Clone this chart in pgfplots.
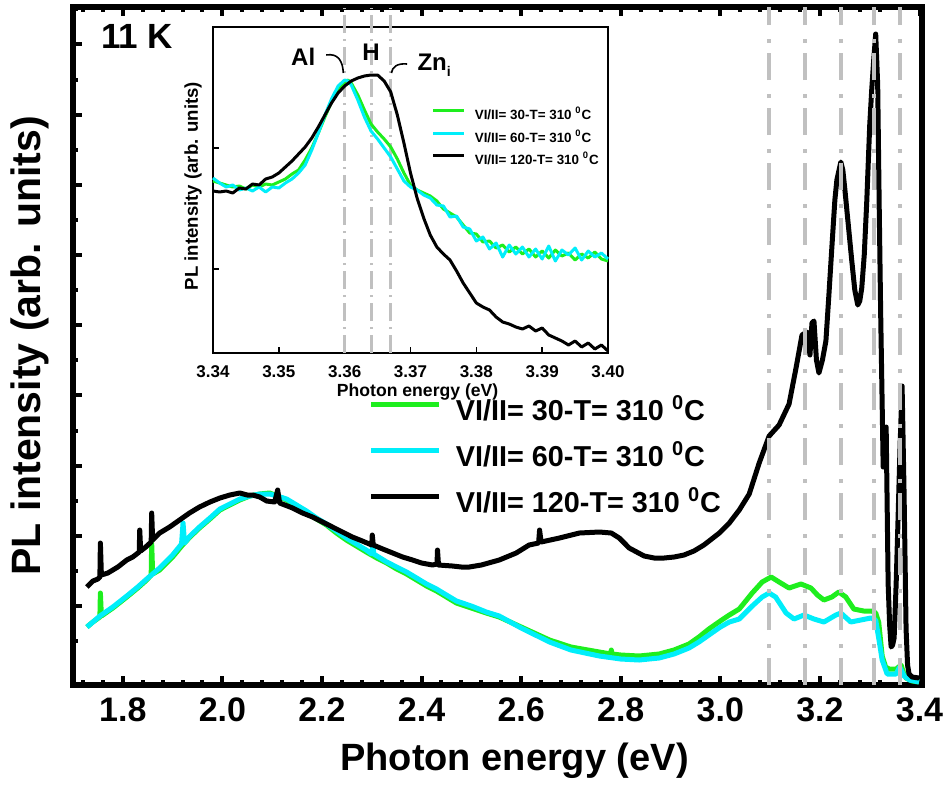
\documentclass[border=0pt]{standalone}
\usepackage{fontspec}
\setmainfont{Liberation Sans}
\usepackage{pgfplots}
\pgfplotsset{compat=1.18}
\definecolor{cgreen}{RGB}{30,238,30}
\definecolor{ccyan}{RGB}{0,238,250}
\definecolor{dgray}{RGB}{192,192,192}
\newcommand{\fs}[1]{\bfseries\fontsize{#1}{#1}\selectfont}
\begin{document}
\begin{tikzpicture}
\begin{axis}[
  at={(0,0)}, anchor=south west,
  width=424.5pt, height=339pt, scale only axis,
  xmin=1.7, xmax=3.405, ymin=0, ymax=678,
  axis line style={line width=3pt},
  xtick={1.8,2.0,2.2,2.4,2.6,2.8,3.0,3.2,3.4},
  xticklabels={1.8,2.0,2.2,2.4,2.6,2.8,3.0,3.2,3.4},
  minor xtick={1.72,1.76,1.84,1.88,1.92,1.96,2.04,2.08,2.12,2.16,2.24,2.28,2.32,2.36,2.44,2.48,2.52,2.56,2.64,2.68,2.72,2.76,2.84,2.88,2.92,2.96,3.04,3.08,3.12,3.16,3.24,3.28,3.32,3.36},
  ytick={79,149.2,219.4,289.6,359.8,430,500.2,570.4,640.6},
  yticklabels={},
  minor ytick={44,114.1,184.3,254.5,324.7,394.9,465.1,535.3,605.5,675.7},
  xtick pos=both, ytick pos=left,
  tick align=inside,
  major tick length=4.5pt, minor tick length=2.5pt,
  every tick/.style={black, line width=2pt},
  /pgf/number format/assume math mode=true,
  xticklabel style={font=\fs{17}, yshift=-2.8pt},
  xlabel={Photon energy (eV)},
  xlabel style={font=\fs{19}, at={(axis description cs:0.52,-0.111)}, anchor=center},
  ylabel={PL intensity (arb. units)},
  ylabel style={font=\fs{20.5}, at={(axis description cs:-0.0506,0.5)}, anchor=center},
  legend style={at={(axis description cs:0.3485,0.429)}, anchor=north west, draw=none, fill=none,
    font=\fs{14.4}, inner sep=0pt, outer sep=0pt, row sep=5pt, column sep=5pt,
    nodes={inner sep=2pt, text height=11pt, text depth=3pt}},
  legend cell align=left,
  legend image code/.code={\draw[#1, line width=2.5pt] (0pt,4pt) -- (34pt,4pt);},
  every axis plot/.append style={line join=round},
]
\addplot[cgreen, line width=2.5pt] coordinates {
(1.728,58) (1.740,63) (1.754,68) (1.755,92) (1.757,69) (1.780,77) (1.808,88) (1.830,97) (1.848,105) (1.857,110) (1.858,142) (1.860,111) (1.874,115) (1.900,128) (1.920,140) (1.935,148) (1.954,157) (1.975,166) (1.995,175) (2.015,180) (2.035,185) (2.055,189) (2.075,191) (2.095,192) (2.110,189) (2.129,185) (2.149,178) (2.169,172) (2.189,166) (2.209,160) (2.229,152) (2.249,145) (2.269,139) (2.289,133) (2.310,127) (2.330,122) (2.350,116) (2.370,111) (2.390,105) (2.410,99) (2.430,94) (2.450,88) (2.470,82) (2.500,77) (2.530,72) (2.556,68) (2.600,58) (2.657,45) (2.700,38) (2.757,33) (2.780,31) (2.781,35) (2.783,31) (2.800,30) (2.837,29) (2.877,31) (2.907,35) (2.937,41) (2.957,48) (2.977,56) (3.000,64) (3.018,70) (3.038,76) (3.064,92) (3.084,103) (3.102,108) (3.118,103) (3.138,97) (3.150,99) (3.162,101) (3.182,97) (3.195,90) (3.208,85) (3.224,88) (3.238,93) (3.252,88) (3.268,76) (3.288,74) (3.304,74) (3.312,72) (3.318,63) (3.325,29) (3.332,18) (3.339,16) (3.353,16) (3.363,20) (3.368,12) (3.373,7) (3.385,4) (3.399,3)};
\addlegendentry{VI/II= 30-T= 310 \textsuperscript{0}C}
\addplot[ccyan, line width=2.5pt] coordinates {
(1.728,58) (1.740,63) (1.754,69) (1.780,78) (1.808,89) (1.830,98) (1.848,106) (1.874,117) (1.900,130) (1.918,141) (1.921,162) (1.924,142) (1.935,149) (1.954,158) (1.975,167) (1.995,176) (2.015,181) (2.035,186) (2.055,189) (2.075,191) (2.095,191) (2.110,189) (2.129,186) (2.149,180) (2.169,174) (2.189,167) (2.209,161) (2.229,154) (2.249,147) (2.269,141) (2.289,135) (2.300,131) (2.302,141) (2.304,131) (2.330,123) (2.350,118) (2.370,113) (2.390,107) (2.410,101) (2.430,96) (2.450,90) (2.470,84) (2.500,79) (2.530,73) (2.556,69) (2.600,57) (2.657,43) (2.700,35) (2.757,29) (2.800,26) (2.837,25) (2.877,27) (2.907,31) (2.937,37) (2.957,43) (2.977,50) (3.000,58) (3.018,63) (3.038,66) (3.064,79) (3.084,88) (3.098,92) (3.111,88) (3.132,72) (3.148,66) (3.168,70) (3.188,66) (3.208,63) (3.232,70) (3.242,72) (3.262,63) (3.282,65) (3.302,67) (3.312,65) (3.318,47) (3.325,25) (3.335,11) (3.353,11) (3.360,18) (3.369,9) (3.380,5) (3.399,3)};
\addlegendentry{VI/II= 60-T= 310 \textsuperscript{0}C}
\addplot[black, line width=2.5pt] coordinates {
(1.728,98) (1.740,104) (1.750,106) (1.754,108) (1.755,142) (1.757,110) (1.770,112) (1.790,118) (1.808,125) (1.820,128) (1.833,133) (1.834,155) (1.836,134) (1.846,138) (1.857,143) (1.858,172) (1.860,145) (1.874,152) (1.894,158) (1.914,165) (1.934,172) (1.954,178) (1.975,183) (1.995,187) (2.015,190) (2.035,192) (2.050,190) (2.061,190) (2.075,188) (2.089,184) (2.105,183) (2.111,195) (2.115,182) (2.141,177) (2.161,172) (2.181,168) (2.201,163) (2.221,158) (2.241,153) (2.261,148) (2.281,144) (2.300,140) (2.301,150) (2.303,140) (2.322,136) (2.342,132) (2.362,128) (2.382,125) (2.400,122) (2.422,120) (2.431,121) (2.432,135) (2.434,120) (2.462,119) (2.480,118) (2.496,118) (2.520,120) (2.556,125) (2.590,132) (2.616,140) (2.635,142) (2.637,155) (2.640,143) (2.677,147) (2.717,152) (2.757,153) (2.781,152) (2.797,147) (2.817,137) (2.847,129) (2.867,127) (2.887,127) (2.907,128) (2.927,130) (2.947,134) (2.967,140) (2.998,152) (3.018,162) (3.038,175) (3.058,191) (3.078,222) (3.098,249) (3.118,260) (3.138,281) (3.152,317) (3.164,350) (3.174,353) (3.180,330) (3.184,362) (3.188,364) (3.193,325) (3.198,312) (3.205,325) (3.212,344) (3.218,390) (3.224,438) (3.230,485) (3.234,505) (3.242,523) (3.246,515) (3.250,496) (3.257,460) (3.264,424) (3.270,395) (3.276,380) (3.280,384) (3.284,397) (3.289,430) (3.294,483) (3.300,560) (3.304,595) (3.308,625) (3.312,651) (3.316,600) (3.319,480) (3.322,371) (3.325,280) (3.327,218) (3.330,230) (3.333,258) (3.335,180) (3.337,101) (3.340,60) (3.343,38) (3.346,40) (3.349,47) (3.353,100) (3.357,168) (3.361,240) (3.365,299) (3.369,191) (3.373,56) (3.376,20) (3.379,11) (3.385,8) (3.399,7)};
\addlegendentry{VI/II= 120-T= 310 \textsuperscript{0}C}
\pgfplotsinvokeforeach{3.098,3.170,3.242,3.309,3.361}{
  \addplot[dgray, line width=2pt, dash pattern=on 13.5pt off 5pt on 2pt off 7pt, forget plot] coordinates {(#1,0) (#1,678)};
}
\node[font=\fs{17.5}] at (axis description cs:0.0754,0.957) {11 K};
\end{axis}
\begin{axis}[
  at={(70pt,166pt)}, anchor=south west,
  width=197.5pt, height=163pt, scale only axis,
  clip=false,
  xmin=3.34, xmax=3.40, ymin=0, ymax=326,
  axis line style={line width=1.2pt},
  axis background/.style={fill=white},
  xtick={3.34,3.35,3.36,3.37,3.38,3.39,3.40},
  xticklabels={3.34,3.35,3.36,3.37,3.38,3.39,3.40},
  ytick={84,205}, yticklabels={},
  xtick pos=bottom, ytick pos=left,
  tick align=inside, major tick length=3pt,
  every tick/.style={black, line width=0.8pt},
  /pgf/number format/assume math mode=true,
  xticklabel style={font=\fs{8.5}, yshift=-2.7pt},
  xlabel={Photon energy (eV)},
  xlabel style={font=\fs{8.8}, at={(axis description cs:0.518,-0.12)}, anchor=center},
  ylabel={PL intensity (arb. units)},
  ylabel style={font=\fs{9.3}, at={(axis description cs:-0.0506,0.512)}, anchor=center},
  legend style={at={(axis description cs:0.554,0.758)}, anchor=north west, draw=none, fill=none,
    font=\fs{6.7}, inner sep=0pt, outer sep=0pt, row sep=1.75pt, column sep=3.5pt,
    nodes={inner sep=1pt, text height=6pt, text depth=1.5pt}},
  legend cell align=left,
  legend image code/.code={\draw[#1, line width=1.5pt] (0pt,2.3pt) -- (15.5pt,2.3pt);},
  every axis plot/.append style={line join=round},
]
\pgfplotsinvokeforeach{3.36,3.364,3.367}{
  \addplot[dgray, line width=1.5pt, dash pattern=on 9pt off 3pt on 1pt off 3pt, forget plot] coordinates {(#1,0) (#1,345)};
}
\addplot[cgreen, line width=1.5pt] coordinates {
(3.340,172) (3.341,170) (3.342,168) (3.343,166) (3.344,167) (3.345,164) (3.346,168) (3.347,166) (3.348,169) (3.349,168) (3.350,171) (3.351,174) (3.352,179) (3.353,183) (3.354,193) (3.355,205) (3.356,220) (3.357,236) (3.358,251) (3.359,264) (3.360,271) (3.3605,273) (3.361,270) (3.362,258) (3.363,243) (3.364,229) (3.365,221) (3.366,214) (3.367,206) (3.368,194) (3.369,180) (3.370,168) (3.371,163) (3.372,160) (3.373,157) (3.374,152) (3.375,144) (3.376,140) (3.377,136) (3.378,128) (3.379,120) (3.380,119) (3.381,111) (3.382,112) (3.383,105) (3.384,108) (3.385,101) (3.386,106) (3.387,99) (3.388,104) (3.389,96) (3.390,102) (3.391,95) (3.392,103) (3.393,97) (3.394,100) (3.395,93) (3.396,99) (3.397,95) (3.398,101) (3.399,94) (3.400,92)};
\addlegendentry{VI/II= 30-T= 310 \textsuperscript{0}C}
\addplot[ccyan, line width=1.5pt] coordinates {
(3.340,175) (3.341,170) (3.342,166) (3.343,168) (3.344,163) (3.345,165) (3.346,162) (3.347,166) (3.348,161) (3.349,166) (3.350,165) (3.351,170) (3.352,174) (3.353,180) (3.354,188) (3.355,203) (3.356,220) (3.357,238) (3.358,254) (3.359,267) (3.360,273) (3.3605,272) (3.361,268) (3.362,253) (3.363,236) (3.364,222) (3.365,214) (3.366,205) (3.367,196) (3.368,184) (3.369,172) (3.370,166) (3.371,163) (3.372,158) (3.373,155) (3.374,148) (3.375,147) (3.376,136) (3.377,137) (3.378,126) (3.379,124) (3.380,112) (3.381,116) (3.382,104) (3.383,110) (3.384,96) (3.385,108) (3.386,99) (3.387,106) (3.388,96) (3.389,104) (3.390,94) (3.391,107) (3.392,92) (3.393,103) (3.394,98) (3.395,105) (3.396,93) (3.397,102) (3.398,96) (3.399,100) (3.400,94)};
\addlegendentry{VI/II= 60-T= 310 \textsuperscript{0}C}
\addplot[black, line width=1.5pt] coordinates {
(3.340,162) (3.341,161) (3.342,162) (3.343,160) (3.344,165) (3.345,164) (3.346,169) (3.347,168) (3.348,174) (3.349,176) (3.350,180) (3.351,186) (3.352,192) (3.353,199) (3.354,206) (3.355,215) (3.356,226) (3.357,238) (3.358,250) (3.359,260) (3.360,267) (3.361,272) (3.362,275) (3.363,277) (3.364,278) (3.365,278) (3.366,272) (3.367,261) (3.368,238) (3.369,210) (3.370,180) (3.371,155) (3.372,135) (3.373,118) (3.374,106) (3.375,99) (3.376,93) (3.377,82) (3.378,70) (3.379,60) (3.380,50) (3.381,46) (3.382,43) (3.383,36) (3.384,31) (3.385,29) (3.386,26) (3.387,24) (3.388,27) (3.389,22) (3.390,25) (3.391,18) (3.392,15) (3.393,12) (3.394,8) (3.395,12) (3.396,6) (3.397,10) (3.398,4) (3.399,8) (3.400,2)};
\addlegendentry{VI/II= 120-T= 310 \textsuperscript{0}C}
\node[font=\fs{12}] at (axis cs:3.3537,296) {Al};
\node[font=\fs{12}] at (axis cs:3.3640,301) {H};
\node[font=\fs{12}, anchor=west] at (axis cs:3.3700,288) {Zn\raisebox{-0.45ex}{\fontsize{7}{7}\selectfont i}};
\draw[line width=0.8pt] (axis cs:3.3572,298) .. controls (axis cs:3.3590,300) and (axis cs:3.3597,292) .. (axis cs:3.3598,280);
\draw[line width=0.8pt] (axis cs:3.3695,289) .. controls (axis cs:3.3680,290) and (axis cs:3.3672,286) .. (axis cs:3.3671,280);
\end{axis}
\pgfresetboundingbox
\path (-36.5pt,-49.5pt) rectangle (439pt,342.5pt);
\end{tikzpicture}
\end{document}
